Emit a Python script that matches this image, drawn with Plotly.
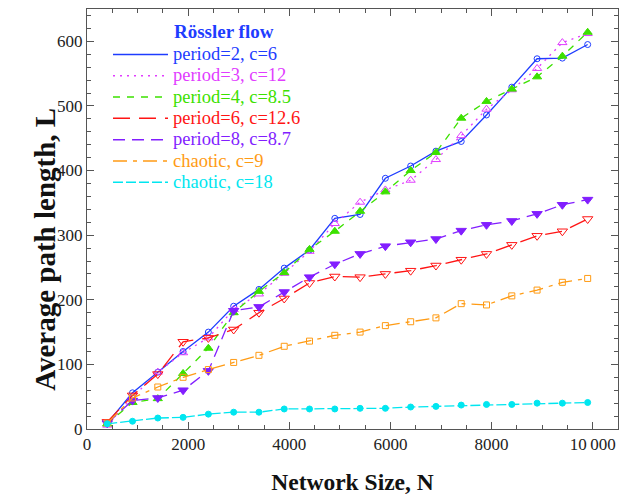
import plotly.graph_objects as go

# Network sizes (shared by every series)
network_size = [400, 900, 1400, 1900, 2400, 2900, 3400, 3900, 4400, 4900,
                5400, 5900, 6400, 6900, 7400, 7900, 8400, 8900, 9400, 9900]

# Average path length per attractor
period2_c6 = [9, 56, 88, 120, 150, 190, 216, 249, 277, 326,
              332, 388, 407, 430, 445, 486, 529, 573, 574, 595]
period3_c12 = [6, 49, 88, 118, 141, 185, 209, 241, 275, 318,
               351, 370, 385, 417, 454, 495, 525, 558, 598, 612]
period4_c85 = [8, 41, 47, 86, 125, 180, 213, 242, 278, 306,
               337, 367, 400, 428, 481, 507, 526, 545, 577, 614]
period6_c126 = [11, 52, 85, 135, 141, 154, 180, 202, 226, 236,
                235, 240, 245, 253, 262, 271, 285, 299, 306, 325]
period8_c87 = [9, 44, 48, 60, 90, 183, 189, 212, 235, 255,
               271, 283, 289, 294, 307, 316, 322, 333, 347, 355]
chaotic_c9 = [9, 48, 65, 80, 92, 103, 114, 128, 136, 145,
              150, 160, 166, 172, 194, 192, 206, 215, 227, 233]
chaotic_c18 = [8, 12, 17, 18, 23, 26, 26, 31, 31, 31,
               32, 32, 34, 35, 37, 38, 38, 40, 40, 41]

x_tickvals = [0, 2000, 4000, 6000, 8000, 10000]
x_ticktext = ["0", "2000", "4000", "6000", "8000", "10\u2009000"]
y_tickvals = [0, 100, 200, 300, 400, 500, 600]

SERIF = "Liberation Serif, Times New Roman, serif"
TITLE_BLUE = "rgb(30,60,255)"

series = [
    ("period=2, c=6", period2_c6, "rgb(30,60,255)", "solid", "circle-open", 6),
    ("period=3, c=12", period3_c12, "rgb(225,60,255)", "2px,5px", "triangle-up-open", 8),
    ("period=4, c=8.5", period4_c85, "rgb(60,225,0)", "7px,7px", "triangle-up", 8),
    ("period=6, c=12.6", period6_c126, "rgb(255,20,20)", "17px,9px", "triangle-down-open", 9),
    ("period=8, c=8.7", period8_c87, "rgb(130,30,255)", "12px,7px", "triangle-down", 9),
    ("chaotic, c=9", chaotic_c9, "rgb(255,155,20)", "14px,6px,4px,6px", "square-open", 6),
    ("chaotic, c=18", chaotic_c18, "rgb(0,230,240)", "10px,3px", "circle", 6),
]

fig = go.Figure()

for name, values, color, dash, symbol, size in series:
    # data trace with markers
    fig.add_trace(go.Scatter(
        x=network_size, y=values, mode="lines+markers",
        line=dict(color=color, width=1.3, dash=dash),
        marker=dict(symbol=symbol, size=size, color=color,
                    line=dict(color=color, width=1)),
        showlegend=False, hoverinfo="x+y", name=name,
    ))
    # legend entry showing only the line style; label in the series colour
    fig.add_trace(go.Scatter(
        x=[None], y=[None], mode="lines",
        line=dict(color=color, width=1.5, dash=dash),
        name=f"<span style='color:{color};font-size:18.5px'>{name}</span>",
        showlegend=True,
    ))

axis_common = dict(
    showline=True, linecolor="#555", linewidth=1, mirror="allticks",
    ticks="inside", tickcolor="#555", ticklen=7, tickwidth=1,
    showgrid=False, zeroline=False,
    tickfont=dict(family=SERIF, size=17, color="#222"),
)

fig.update_xaxes(
    range=[0, 10500], tickvals=x_tickvals, ticktext=x_ticktext,
    minor=dict(dtick=500, tick0=0, ticks="inside", ticklen=4, tickcolor="#555"),
    title=dict(text="<b>Network Size, N</b>", standoff=20,
               font=dict(family=SERIF, size=23.5, color="#111")),
    **axis_common,
)
fig.update_yaxes(
    range=[0, 650], tickvals=y_tickvals,
    minor=dict(dtick=20, tick0=0, ticks="inside", ticklen=4, tickcolor="#555"),
    **axis_common,
)

# vertical axis title
fig.add_annotation(
    xref="paper", yref="paper",
    x=(45 - 87) / 531, y=(432 - 396) / 424,
    xanchor="center", yanchor="bottom", textangle=-90,
    text="<b>Average path length, L</b>", showarrow=False,
    font=dict(family=SERIF, size=29, color="#111"),
)

# legend heading
fig.add_annotation(
    xref="paper", yref="paper",
    x=(224 - 87) / 531, y=(432 - 31) / 424,
    xanchor="center", yanchor="middle",
    text="<b>Rössler flow</b>", showarrow=False,
    font=dict(family=SERIF, size=19, color=TITLE_BLUE),
)

fig.update_layout(
    width=628, height=499,
    margin=dict(l=87, r=10, t=8, b=67),
    plot_bgcolor="white", paper_bgcolor="white",
    legend=dict(
        x=(108 - 87) / 531, y=(432 - 38) / 424, xanchor="left", yanchor="top",
        bgcolor="rgba(0,0,0,0)", borderwidth=0,
        font=dict(family=SERIF, size=14.1),
        itemwidth=55, tracegroupgap=0,
    ),
)

fig.write_html("out.html")
